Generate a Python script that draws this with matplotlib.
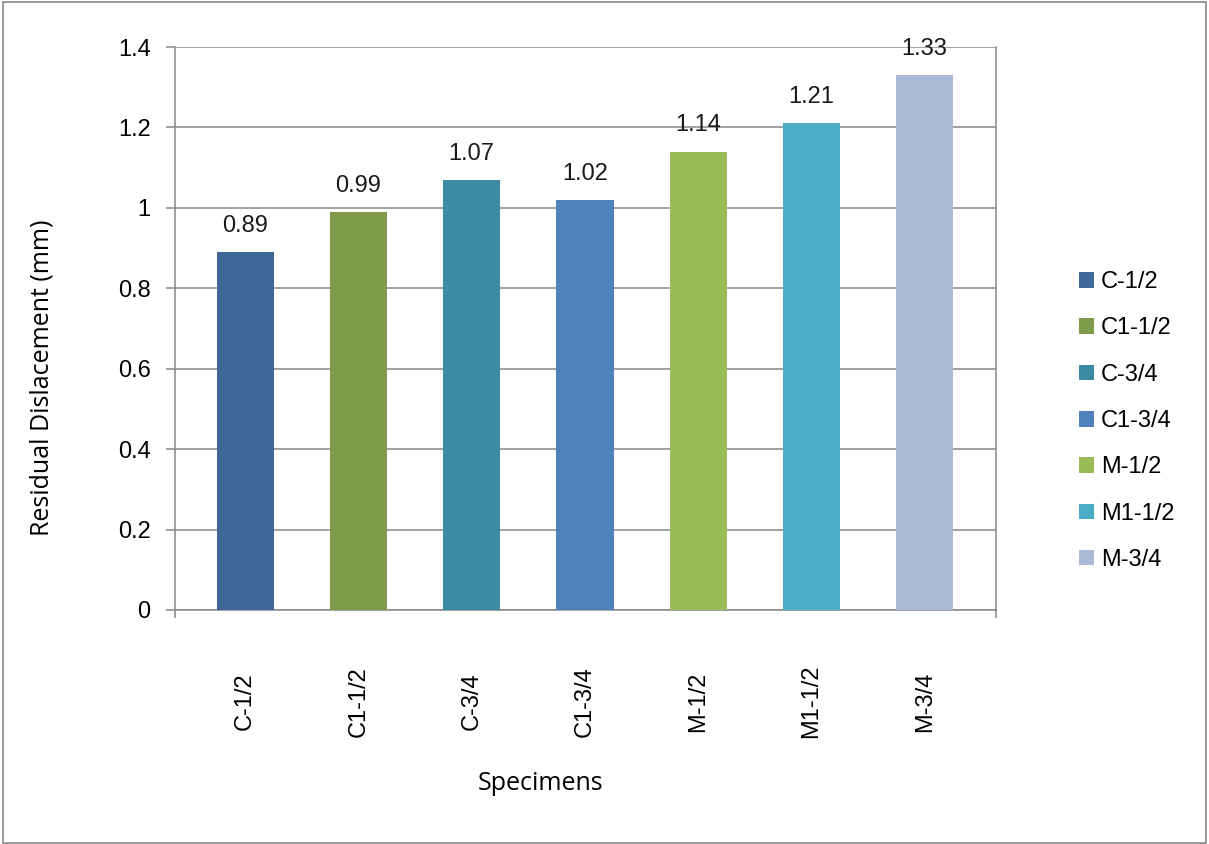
import matplotlib.pyplot as plt
from matplotlib.patches import Rectangle

specimens = ["C-1/2", "C1-1/2", "C-3/4", "C1-3/4", "M-1/2", "M1-1/2", "M-3/4"]
residual = [0.89, 0.99, 1.07, 1.02, 1.14, 1.21, 1.33]
colors = ["#3F6898", "#7F9A48", "#3B8CA2", "#4F81BD", "#9BBB59", "#4BACC6", "#AABAD7"]
yticks = [0, 0.2, 0.4, 0.6, 0.8, 1, 1.2, 1.4]
ytick_labels = ["0", "0.2", "0.4", "0.6", "0.8", "1", "1.2", "1.4"]

plt.rcParams["font.family"] = ["Liberation Sans", "DejaVu Sans"]
grey = "#878787"

fig = plt.figure(figsize=(12.09, 8.44), dpi=100)
ax = fig.add_axes([175 / 1209, 1 - 610 / 844, 821 / 1209, 563 / 844])

x = range(len(specimens))
for i, (name, val, col) in enumerate(zip(specimens, residual, colors)):
    ax.bar(i, val, width=0.505, color=col, label=name, zorder=3)
    ax.annotate(f"{val:.2f}", (i, val), xytext=(0, 14.5), textcoords="offset points",
                ha="center", va="baseline", fontsize=17, color="#1a1a1a")

ax.set_xlim(-0.62, 6.63)
ax.set_ylim(0, 1.4)
ax.set_yticks(yticks)
ax.set_yticklabels(ytick_labels)
ax.yaxis.grid(True, color=grey, linewidth=1.1, zorder=0)

ax.set_xticks(list(x))
ax.set_xticklabels(specimens, rotation=90, va="center", ha="center")
ax.tick_params(axis="x", length=0, pad=66, labelsize=17)
ax.set_xticks([-0.62, 6.63], minor=True)
ax.tick_params(axis="x", which="minor", length=6, width=1.1, color=grey, direction="out")
ax.tick_params(axis="y", length=6.5, width=1.1, color=grey, pad=11, labelsize=17)

for side in ["left", "bottom", "right", "top"]:
    ax.spines[side].set_color(grey)
    ax.spines[side].set_linewidth(1.1)
ax.spines["top"].set_visible(False)

fig.text(42 / 1209, 1 - 378 / 844, "Residual Dislacement (mm)", rotation=90,
         ha="center", va="center", fontsize=18, family="Open Sans")
fig.text(541 / 1209, 1 - 783 / 844, "Specimens", ha="center", va="center",
         fontsize=18, family="Open Sans")

fig.legend(loc="center left", bbox_to_anchor=(1079 / 1209, 1 - 421 / 844),
           frameon=False, fontsize=17, borderaxespad=0, borderpad=0,
           handlelength=0.64, handleheight=0.64, handletextpad=0.3, labelspacing=1.03)

# outer chart border
fig.patches.append(Rectangle((3 / 1209, 1 / 844), 1203 / 1209, 841 / 844,
                             transform=fig.transFigure, fill=False,
                             edgecolor=grey, linewidth=1.2))

fig.savefig("out.png", dpi=100)
